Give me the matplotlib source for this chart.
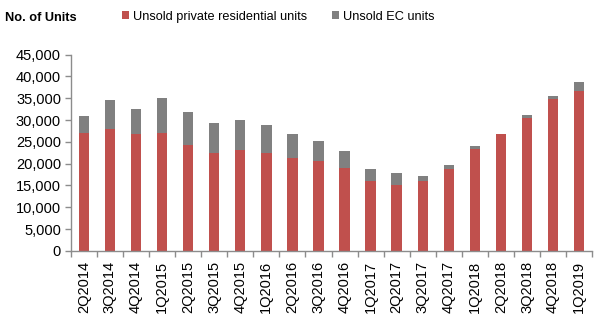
import matplotlib
matplotlib.use("Agg")
import matplotlib.pyplot as plt
import numpy as np
from matplotlib.ticker import FuncFormatter, FixedLocator

plt.rcParams['font.family'] = ['Liberation Sans', 'DejaVu Sans']

quarters = ["2Q2014", "3Q2014", "4Q2014", "1Q2015", "2Q2015", "3Q2015", "4Q2015",
            "1Q2016", "2Q2016", "3Q2016", "4Q2016", "1Q2017", "2Q2017", "3Q2017",
            "4Q2017", "1Q2018", "2Q2018", "3Q2018", "4Q2018", "1Q2019"]
private_units = [27000, 28050, 26750, 27000, 24400, 22400, 23250, 22400, 21400, 20550,
                 19000, 15950, 15100, 16100, 18800, 23450, 26900, 30500, 34750, 36750]
ec_units = [4000, 6500, 5800, 8000, 7550, 6950, 6700, 6500, 5500, 4650,
            3950, 2900, 2650, 1000, 950, 650, 0, 750, 850, 1900]

red = "#C0504D"
grey = "#808080"
axis_col = "#8C8C8C"

fig = plt.figure(figsize=(6, 3.16), dpi=100)
ax = fig.add_axes([0.118, 0.206, 0.869, 0.621])

x = np.arange(len(quarters))
ax.bar(x, private_units, width=0.4, color=red, label="Unsold private residential units")
ax.bar(x, ec_units, width=0.4, bottom=private_units, color=grey, label="Unsold EC units")

ax.set_xlim(-0.5, len(quarters) - 0.5)
ax.set_ylim(0, 45000)
ax.set_yticks(np.arange(0, 45001, 5000))
ax.yaxis.set_major_formatter(FuncFormatter(lambda v, p: f"{int(v):,}"))
ax.set_xticks(x)
ax.set_xticklabels(quarters, rotation=90, fontsize=10.5)
ax.xaxis.set_minor_locator(FixedLocator(np.arange(-0.5, len(quarters), 1.0)))
ax.tick_params(axis='x', which='major', length=0, pad=7)
ax.tick_params(axis='x', which='minor', length=4, color=axis_col, width=1)
ax.tick_params(axis='y', length=4, color=axis_col, width=1, labelsize=10.5, pad=3)

for s in ['top', 'right']:
    ax.spines[s].set_visible(False)
for s in ['left', 'bottom']:
    ax.spines[s].set_color(axis_col)
    ax.spines[s].set_linewidth(1)

fig.text(0.008, 0.943, "No. of Units", fontsize=9.2, fontweight='bold', va='center', ha='left')
fig.legend(loc='center left', bbox_to_anchor=(0.203, 0.947), ncol=2, frameon=False,
           fontsize=9.2, handlelength=0.6, handleheight=0.6, handletextpad=0.3,
           columnspacing=1.9, borderaxespad=0, borderpad=0)

fig.savefig("out.png", dpi=100)
